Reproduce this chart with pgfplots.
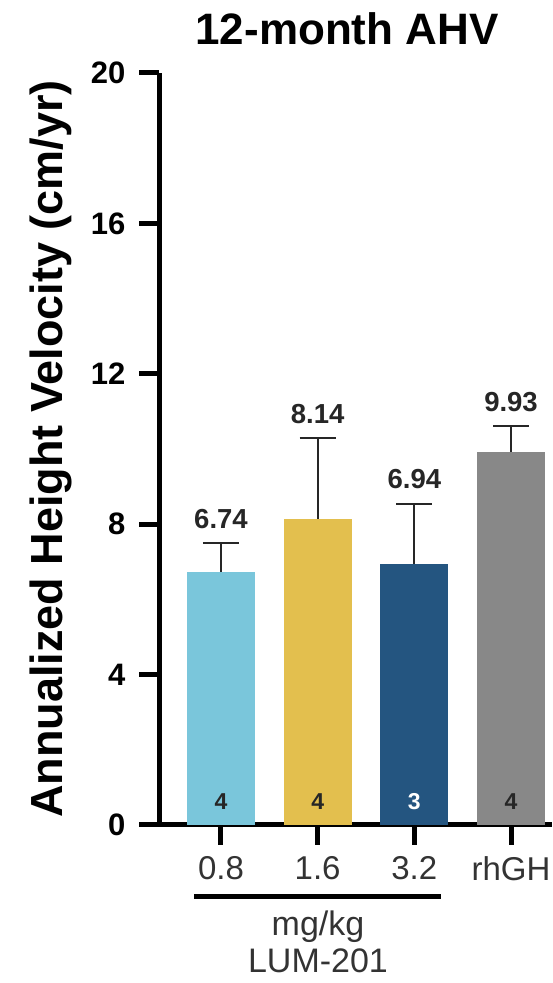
\documentclass[border=0pt]{standalone}
\usepackage{fontspec}
\setmainfont{Liberation Sans}
\usepackage{pgfplots}
\pgfplotsset{compat=1.18}
\definecolor{c1}{HTML}{7AC6DB}
\definecolor{c2}{HTML}{E3BF4E}
\definecolor{c3}{HTML}{245580}
\definecolor{c4}{HTML}{888888}
\definecolor{tl}{HTML}{333333}
\begin{document}
\begin{tikzpicture}
\path[use as bounding box] (0,0) rectangle (552pt,983pt);
\begin{axis}[
  at={(159pt,158pt)}, anchor=south west,
  scale only axis, width=393pt, height=752pt,
  xmin=-0.641, xmax=3.424, ymin=0, ymax=20,
  axis x line*=bottom, axis y line*=left,
  axis line style={line width=5pt, -},
  ytick={0,4,8,12,16,20},
  xtick={0,1,2,3}, xticklabels={0.8,1.6,3.2,rhGH},
  major tick length=20pt, tick align=outside,
  every tick/.append style={line width=5pt, black},
  every major tick/.append style={line width=5pt, black},
  /pgf/number format/assume math mode=true,
  yticklabel style={font=\fontsize{31}{31}\selectfont\bfseries, text=black, xshift=-10pt},
  xticklabel style={font=\fontsize{33}{33}\selectfont, text=tl, yshift=-8pt},
  clip=false,
  ybar, bar width=68pt, bar shift=0pt,
]
\addplot[fill=c1, draw=none, error bars/.cd, y dir=plus, y explicit,
  error bar style={line width=2pt, black!85},
  error mark options={rotate=90, mark size=18pt, line width=2pt, black!85}]
  coordinates {(0,6.74) +- (0,0.75)};
\addplot[fill=c2, draw=none, error bars/.cd, y dir=plus, y explicit,
  error bar style={line width=2pt, black!85},
  error mark options={rotate=90, mark size=18pt, line width=2pt, black!85}]
  coordinates {(1,8.14) +- (0,2.14)};
\addplot[fill=c3, draw=none, error bars/.cd, y dir=plus, y explicit,
  error bar style={line width=2pt, black!85},
  error mark options={rotate=90, mark size=18pt, line width=2pt, black!85}]
  coordinates {(2,6.94) +- (0,1.61)};
\addplot[fill=c4, draw=none, error bars/.cd, y dir=plus, y explicit,
  error bar style={line width=2pt, black!85},
  error mark options={rotate=90, mark size=18pt, line width=2pt, black!85}]
  coordinates {(3,9.93) +- (0,0.67)};
% value labels
\begin{scope}[every node/.style={anchor=base, font=\fontsize{27.5}{27.5}\selectfont\bfseries, text=black!85}]
\node[yshift=15pt] at (axis cs:0,7.49) {6.74};
\node[yshift=15pt] at (axis cs:1,10.28) {8.14};
\node[yshift=15pt] at (axis cs:2,8.55) {6.94};
\node[yshift=15pt] at (axis cs:3,10.60) {9.93};
\end{scope}
% n labels
\begin{scope}[every node/.style={anchor=base, font=\fontsize{23}{23}\selectfont\bfseries}]
\node[yshift=15pt, text=black!85] at (axis cs:0,0) {4};
\node[yshift=15pt, text=black!85] at (axis cs:1,0) {4};
\node[yshift=15pt, text=white] at (axis cs:2,0) {3};
\node[yshift=15pt, text=black!85] at (axis cs:3,0) {4};
\end{scope}
\end{axis}
\draw[line width=5pt] (194pt,86pt) -- (441pt,86pt);
\node[anchor=base, font=\fontsize{34}{34}\selectfont, text=tl] at (318pt,47pt) {mg/kg};
\node[anchor=base, font=\fontsize{34}{34}\selectfont, text=tl] at (318pt,10pt) {LUM-201};
\node[anchor=base, font=\fontsize{44}{44}\selectfont\bfseries] at (347pt,938pt) {12-month AHV};
\node[anchor=base, rotate=90, font=\fontsize{45}{45}\selectfont\bfseries] at (62pt,534pt) {Annualized Height Velocity (cm/yr)};
\end{tikzpicture}
\end{document}
